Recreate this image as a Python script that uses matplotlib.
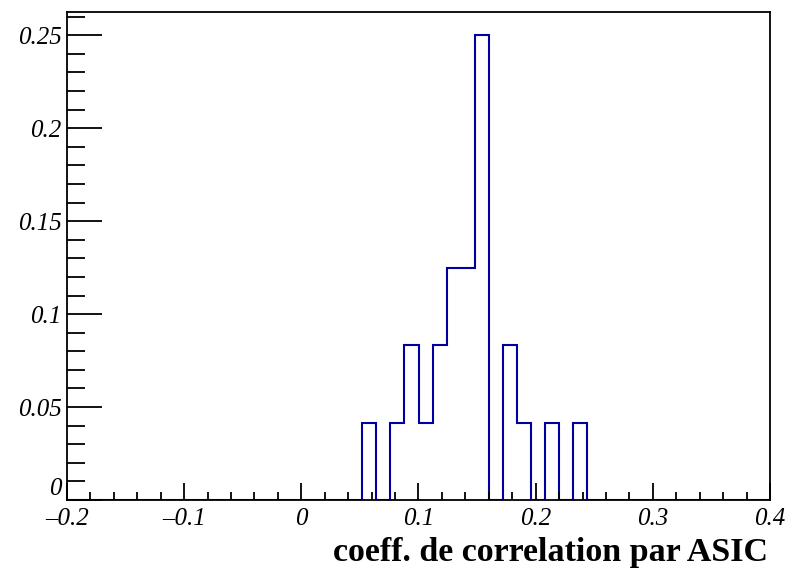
import numpy as np
import matplotlib
matplotlib.use('Agg')
import matplotlib.pyplot as plt
from matplotlib.ticker import MultipleLocator, FuncFormatter

# histogram: 50 bins between -0.2 and 0.4, normalised contents
x_min = -0.2
x_max = 0.4
n_bins = 50
bin_contents = [0.0] * 21 + [
    1/24, 0, 1/24, 2/24, 1/24, 2/24, 3/24, 3/24,
    6/24, 0, 2/24, 1/24, 0, 1/24, 0, 1/24,
] + [0.0] * 13

x_label = 'coeff. de correlation par ASIC'

edges = np.linspace(x_min, x_max, n_bins + 1)

fig = plt.figure(figsize=(7.9, 5.75), dpi=100)
ax = fig.add_axes([67/790, 75/575, 703/790, 488/575])

ax.stairs(bin_contents, edges, color='#0000a0', linewidth=1.5)

ax.set_xlim(x_min, x_max)
ax.set_ylim(0, max(bin_contents) * 1.05)

ax.xaxis.set_major_locator(MultipleLocator(0.1))
ax.xaxis.set_minor_locator(MultipleLocator(0.02))
ax.yaxis.set_major_locator(MultipleLocator(0.05))
ax.yaxis.set_minor_locator(MultipleLocator(0.01))

def fmt(v, pos):
    if abs(v) < 1e-9:
        return '0'
    s = ('%.2f' % v).rstrip('0')
    return s.replace('-', '\u2013')

def fmt_y(v, pos):
    # the y "0" is drawn separately, a bit higher
    if abs(v) < 1e-9:
        return ''
    return fmt(v, pos)

ax.xaxis.set_major_formatter(FuncFormatter(fmt))
ax.yaxis.set_major_formatter(FuncFormatter(fmt_y))

ax.tick_params(axis='x', which='major', direction='in', length=12, width=1.3, pad=6)
ax.tick_params(axis='x', which='minor', direction='in', length=6, width=1.3)
ax.tick_params(axis='y', which='major', direction='in', length=25, width=1.3, pad=4)
ax.tick_params(axis='y', which='minor', direction='in', length=13, width=1.3)
ax.tick_params(top=False, right=False, which='both')

for lab in ax.get_xticklabels() + ax.get_yticklabels():
    lab.set_family('Liberation Serif')
    lab.set_style('italic')
    lab.set_fontsize(18)

ax.annotate('0', xy=(0, 0), xycoords='axes fraction', xytext=(-4, 0),
            textcoords='offset points', ha='right', va='bottom',
            family='Liberation Serif', style='italic', fontsize=18)

for sp in ax.spines.values():
    sp.set_linewidth(1.3)

fig.text(768/790, 1 - 553/575, x_label, ha='right', va='center',
         family='Liberation Serif', weight='bold', fontsize=24.5)

fig.savefig('out.png', dpi=100)
